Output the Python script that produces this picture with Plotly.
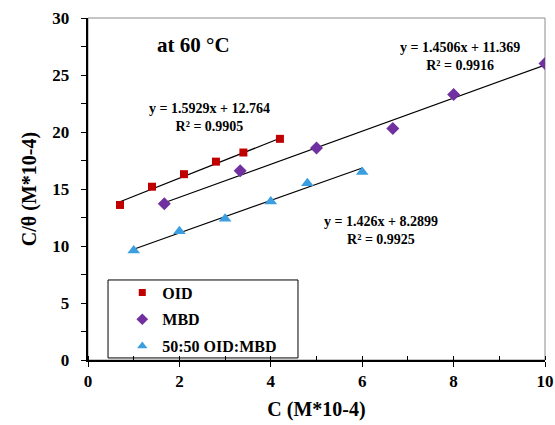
import plotly.graph_objects as go

# data
oid_x = [0.7, 1.4, 2.1, 2.8, 3.4, 4.2]
oid_y = [13.6, 15.2, 16.3, 17.4, 18.2, 19.4]
mbd_x = [1.67, 3.33, 5.0, 6.67, 8.0, 10.0]
mbd_y = [13.7, 16.6, 18.6, 20.3, 23.3, 26.0]
mix_x = [1.0, 2.0, 3.0, 4.0, 4.8, 6.0]
mix_y = [9.6, 11.3, 12.4, 13.9, 15.5, 16.5]

# linear fit coefficients (as printed on chart)
oid_fit = (1.5929, 12.764, 0.9905)
mbd_fit = (1.4506, 11.369, 0.9916)
mix_fit = (1.426, 8.2899, 0.9925)

series_names = ["OID", "MBD", "50:50 OID:MBD"]
colors = ["#C00000", "#7030A0", "#3A9EE0"]
symbols = ["square", "diamond", "triangle-up"]

FONT = "Liberation Serif"

fig = go.Figure()

def trend(xs, fit):
    x0, x1 = min(xs), max(xs)
    return [x0, x1], [fit[0] * x0 + fit[1], fit[0] * x1 + fit[1]]

for xs, fit in [(oid_x, oid_fit), (mbd_x, mbd_fit), (mix_x, mix_fit)]:
    tx, ty = trend(xs, fit)
    fig.add_trace(go.Scatter(x=tx, y=ty, mode="lines", line=dict(color="black", width=1.2),
                             showlegend=False, hoverinfo="skip"))

marker_sizes = [8, 10, 11]
legend_sizes = [7, 9, 9]
for i, (xs, ys) in enumerate([(oid_x, oid_y), (mbd_x, mbd_y), (mix_x, mix_y)]):
    fig.add_trace(go.Scatter(x=xs, y=ys, mode="markers", showlegend=False,
                             marker=dict(symbol=symbols[i], size=marker_sizes[i], color=colors[i])))
for i in range(3):
    fig.add_trace(go.Scatter(x=[None], y=[None], mode="markers", name=series_names[i],
                             legendgroup=str(i), showlegend=True,
                             marker=dict(symbol=symbols[i], size=legend_sizes[i], color=colors[i])))

def eq_text(fit):
    return f"y = {fit[0]:g}x + {fit[1]:g}<br>R² = {fit[2]:g}"

annots = [
    dict(x=2.65, y=21.3, fit=oid_fit),
    dict(x=8.14, y=26.6, fit=mbd_fit),
    dict(x=6.41, y=11.4, fit=mix_fit),
]
for a in annots:
    fig.add_annotation(x=a["x"], y=a["y"], text=eq_text(a["fit"]),
                       showarrow=False, align="center",
                       font=dict(family=FONT, size=14, color="black", weight="bold"))

fig.add_annotation(x=2.3, y=27.6, text="at 60 °C", showarrow=False,
                   font=dict(family=FONT, size=21, color="black", weight="bold"))

# plot border (top/right grey) and legend box
fig.add_shape(type="rect", xref="paper", yref="paper", x0=0, x1=1, y0=0, y1=1,
              line=dict(color="#8c8c8c", width=1), layer="below")
fig.add_shape(type="rect", xref="paper", yref="paper", x0=0.0438, x1=0.4595, y0=0.006, y1=0.234,
              line=dict(color="black", width=1), fillcolor="white", layer="below")

fig.update_layout(
    width=555, height=425,
    margin=dict(l=88, r=10, t=18, b=65, autoexpand=False),
    paper_bgcolor="white", plot_bgcolor="white",
    font=dict(family=FONT, color="black"),
    showlegend=True,
    legend=dict(x=0.075, y=0.247, xanchor="left", yanchor="top",
                bgcolor="rgba(0,0,0,0)", borderwidth=0, tracegroupgap=3,
                itemwidth=30,
                font=dict(family=FONT, size=16, color="black", weight="bold")),
    xaxis=dict(range=[0, 10], dtick=2, tick0=0, showgrid=False, zeroline=False,
               automargin=False,
               showline=True, linecolor="black", linewidth=1.5,
               ticks="outside", ticklen=5, tickcolor="black",
               minor=dict(dtick=1, ticks="inside", ticklen=4, tickcolor="black"),
               tickfont=dict(family=FONT, size=17, color="black", weight="bold"),
               title=dict(text="C (M*10-4)", font=dict(family=FONT, size=20, weight="bold"), standoff=12)),
    yaxis=dict(range=[0, 30], dtick=5, tick0=0, showgrid=False, zeroline=False,
               automargin=False,
               showline=True, linecolor="black", linewidth=1.5,
               ticks="outside", ticklen=5, tickcolor="black",
               ticksuffix="\u00a0\u00a0",
               minor=dict(dtick=2.5, ticks="outside", ticklen=5, tickcolor="black"),
               tickfont=dict(family=FONT, size=17, color="black", weight="bold"),
               title=dict(text="C/θ (M*10-4)", font=dict(family=FONT, size=20, weight="bold"), standoff=10)),
)

fig.write_html("out.html")
